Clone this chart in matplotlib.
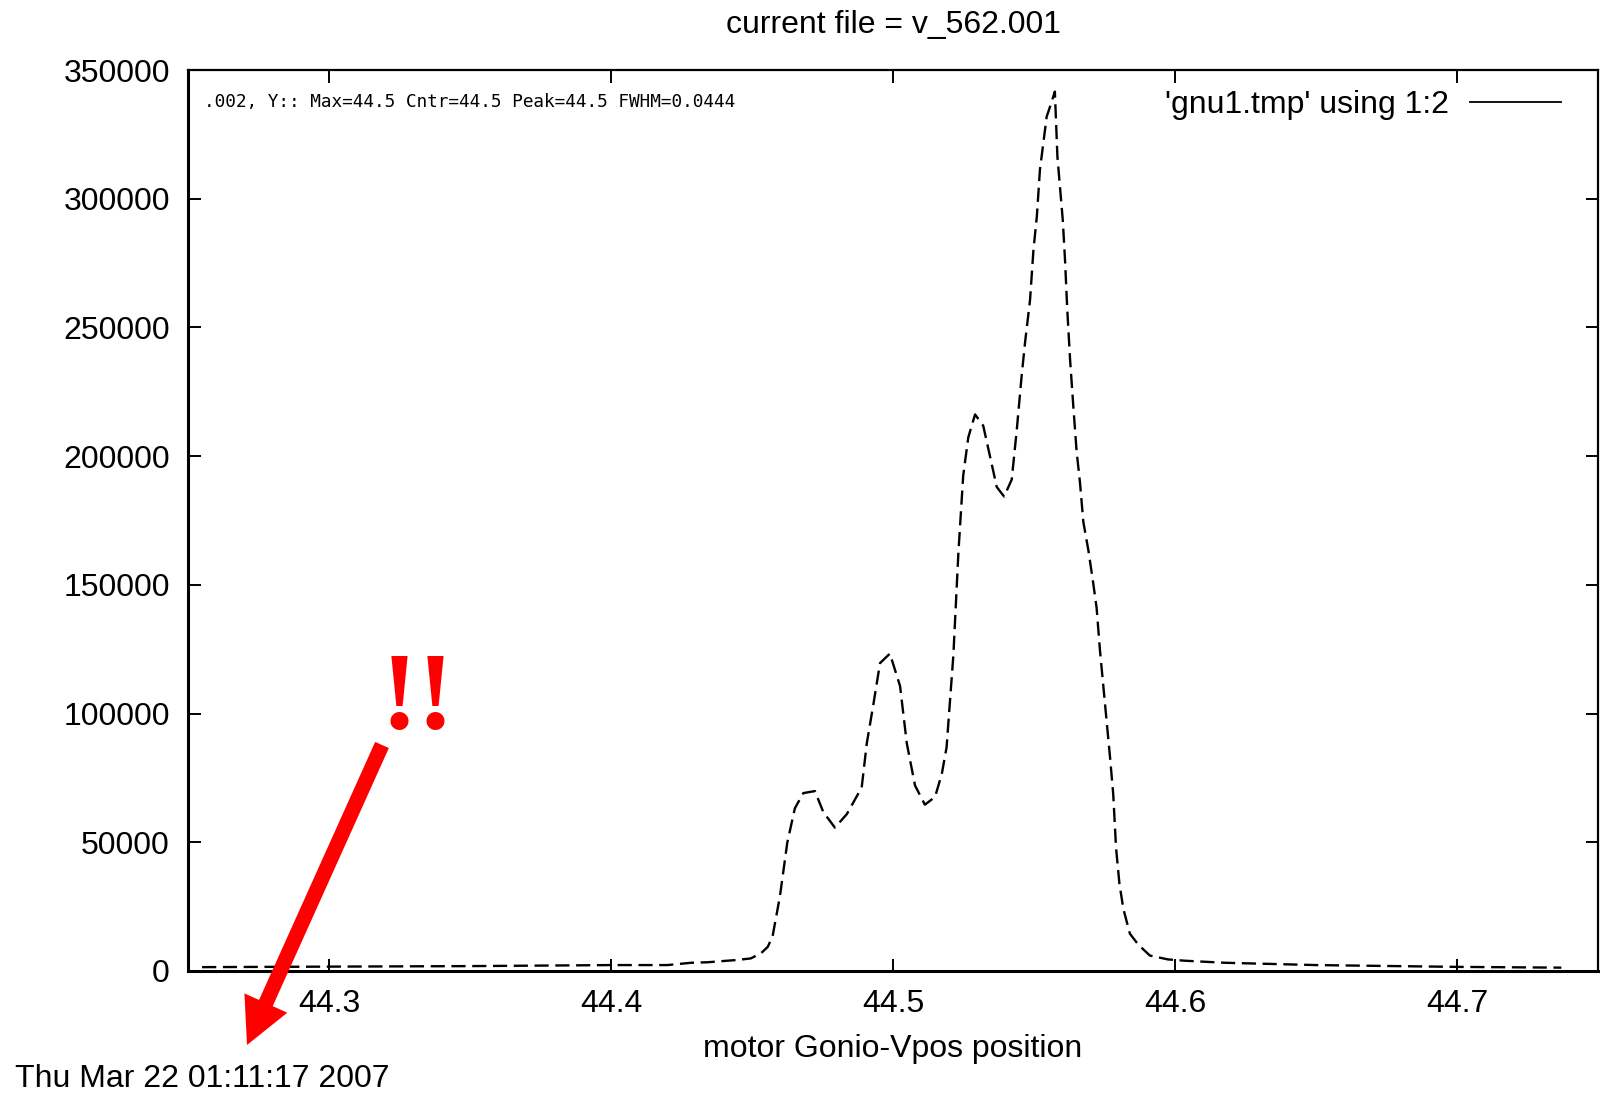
import matplotlib
matplotlib.use("Agg")
import matplotlib.pyplot as plt
from matplotlib.lines import Line2D
from matplotlib.patches import FancyArrow

# Scan of motor Gonio-Vpos: position vs. counts
position = [44.255, 44.300, 44.350, 44.400, 44.420, 44.4284, 44.4343, 44.4401,
            44.4450, 44.4496, 44.4532, 44.4556, 44.4573, 44.4599, 44.4625,
            44.4652, 44.4682, 44.4723, 44.4753, 44.4794, 44.4836, 44.4889,
            44.4907, 44.4930, 44.4954, 44.4989, 44.5025, 44.5049, 44.5078,
            44.5113, 44.5149, 44.5173, 44.5190, 44.5214, 44.5232, 44.5249,
            44.5267, 44.5291, 44.5320, 44.5344, 44.5368, 44.5394, 44.5421,
            44.5439, 44.5456, 44.5468, 44.5486, 44.5498, 44.5510, 44.5521,
            44.5533, 44.5545, 44.5557, 44.5574, 44.5583, 44.5592, 44.5602,
            44.5610, 44.5618, 44.5628, 44.5639, 44.5651, 44.5663, 44.5675,
            44.5693, 44.5708, 44.5722, 44.5734, 44.5746, 44.5758, 44.5770,
            44.5781, 44.5791, 44.5803, 44.5817, 44.5840, 44.5870, 44.5911,
            44.5975, 44.6034, 44.6176, 44.650, 44.700, 44.737]
counts = [1500, 1700, 1900, 2300, 2300, 3200, 3400, 3900,
          4300, 4900, 6900, 9400, 13500, 29000, 49800,
          63200, 69100, 69900, 61700, 55700, 60900, 71300,
          88400, 103300, 119600, 123300, 110700, 88400, 72100,
          64600, 67600, 76500, 86900, 122600, 162700, 192500,
          207300, 216200, 211800, 199900, 188000, 184300, 190900,
          210300, 231000, 243900, 260700, 280100, 293000, 311200,
          321600, 331900, 335800, 341600, 316400, 304700, 291800,
          276200, 256800, 237400, 220000, 202000, 189800, 174400,
          163300, 152200, 141100, 124400, 110500, 96500, 82600,
          68600, 47800, 33800, 24100, 14500, 10200, 6000,
          4500, 4000, 3200, 2300, 1600, 1300]

x_ticks = [44.3, 44.4, 44.5, 44.6, 44.7]
y_ticks = [0, 50000, 100000, 150000, 200000, 250000, 300000, 350000]

title_text = "current file = v_562.001"
xlabel_text = "motor Gonio-Vpos position"
legend_text = "'gnu1.tmp' using 1:2"
stats_text = ".002, Y:: Max=44.5 Cntr=44.5 Peak=44.5 FWHM=0.0444"
date_text = "Thu Mar 22 01:11:17 2007"

plt.rcParams['font.family'] = ['Liberation Sans', 'DejaVu Sans']
FS = 23

W, H = 1600, 1095
fig = plt.figure(figsize=(W / 100, H / 100), dpi=100)
ax = fig.add_axes([188 / W, 1 - 971 / H, 1410 / W, 901 / H])

ax.plot(position, counts, color='black', lw=1.7, linestyle=(0, (6, 2.8)))

ax.set_xlim(44.25, 44.75)
ax.set_ylim(0, 350000)
ax.set_xticks(x_ticks)
ax.set_xticklabels([f"{v:.1f}" for v in x_ticks])
ax.set_yticks(y_ticks)
ax.set_yticklabels([str(v) for v in y_ticks])
ax.tick_params(direction='in', length=9, width=1.4, labelsize=FS,
               top=True, right=True, pad=13, colors='black')

for side, spine in ax.spines.items():
    spine.set_color('black')
    spine.set_linewidth(2.2 if side in ('left', 'bottom') else 1.6)

ax.set_title(title_text, fontsize=FS, pad=26.5)
ax.set_xlabel(xlabel_text, fontsize=FS, labelpad=11)

ax.text(0.0113, 0.9645, stats_text, transform=ax.transAxes, fontsize=12.8,
        family='DejaVu Sans Mono', va='center', ha='left')

ax.legend(handles=[Line2D([], [], color='black', lw=1.3)], labels=[legend_text],
          loc='upper right', bbox_to_anchor=(0.983, 0.992), markerfirst=False,
          frameon=False, fontsize=FS, handlelength=2.85, handletextpad=0.66,
          borderaxespad=0.0, borderpad=0.4)

fig.text(15 / W, 1 - 1079 / H, date_text, fontsize=FS, ha='left', va='center')

# red call-out pointing at the time stamp
fig.text(418 / W, 1 - 728 / H, "!!", fontsize=80,
         family=['Liberation Serif', 'DejaVu Serif'],
         fontweight='bold', color='#ff0000', ha='center', va='baseline')
arrow = FancyArrow(3.82, (H - 745) / 100, 2.47 - 3.82, (745 - 1045) / 100,
                   width=0.15, head_width=0.47, head_length=0.46,
                   length_includes_head=True, color='#ff0000', lw=0,
                   transform=fig.dpi_scale_trans)
fig.add_artist(arrow)

fig.savefig("out.png", dpi=100, facecolor='white')
